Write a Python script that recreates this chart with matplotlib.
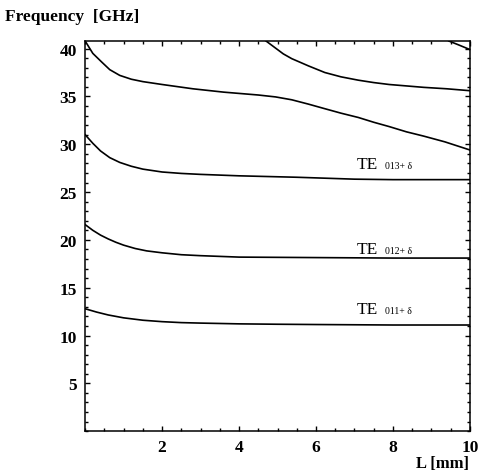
import matplotlib.pyplot as plt
from matplotlib.ticker import MultipleLocator

# readings (L in mm, frequency in GHz)
L_011 = [0, 0.3, 0.6, 1, 1.5, 2, 2.5, 3, 4, 5, 6, 8, 10]
f_011 = [12.8, 12.45, 12.15, 11.85, 11.6, 11.45, 11.35, 11.3, 11.22, 11.18, 11.15, 11.1, 11.1]

L_012 = [0, 0.2, 0.4, 0.6, 0.8, 1, 1.3, 1.6, 2, 2.5, 3, 4, 6, 8, 10]
f_012 = [21.6, 21.0, 20.5, 20.1, 19.75, 19.45, 19.1, 18.85, 18.65, 18.45, 18.35, 18.2, 18.15, 18.1, 18.1]

L_013 = [0, 0.2, 0.4, 0.64, 0.9, 1.2, 1.5, 2, 2.5, 3, 4, 5.5, 7, 8, 10]
f_013 = [31.0, 30.1, 29.3, 28.6, 28.1, 27.7, 27.4, 27.1, 26.95, 26.85, 26.7, 26.55, 26.35, 26.3, 26.3]

L_m4 = [0, 0.2, 0.43, 0.64, 0.9, 1.2, 1.5, 2.0, 2.8, 3.6, 4.5, 4.95, 5.37, 5.8, 6.2,
        6.65, 7.1, 7.5, 7.9, 8.35, 8.8, 9.35, 10]
f_m4 = [40.8, 39.5, 38.6, 37.8, 37.2, 36.8, 36.55, 36.25, 35.8, 35.45, 35.15, 34.95, 34.65,
        34.2, 33.75, 33.25, 32.8, 32.3, 31.85, 31.3, 30.85, 30.25, 29.4]

L_m5 = [4.7, 4.95, 5.15, 5.37, 5.6, 5.8, 6.23, 6.65, 7.1, 7.5, 7.9, 8.8, 9.4, 10]
f_m5 = [40.8, 40.05, 39.45, 38.95, 38.55, 38.2, 37.5, 37.05, 36.7, 36.45, 36.25, 35.95, 35.8, 35.6]

L_m6 = [9.45, 9.7, 10]
f_m6 = [40.8, 40.4, 39.9]

labels = ['013', '012', '011']
label_y = [27.5, 18.6, 12.4]

fig = plt.figure(figsize=(4.81, 4.77), dpi=100)
ax = fig.add_axes([0.177, 0.094, 0.8, 0.818])

for xs, ys in [(L_011, f_011), (L_012, f_012), (L_013, f_013),
               (L_m4, f_m4), (L_m5, f_m5), (L_m6, f_m6)]:
    ax.plot(xs, ys, color='black', lw=1.2, clip_on=True)

for name, y in zip(labels, label_y):
    ax.text(7.06, y, 'TE', family='Liberation Serif', fontsize=12.5, va='baseline')
    ax.text(7.78, y, name + '+ \u03b4', family='Liberation Serif', fontsize=7, va='baseline')

ax.set_xlim(0, 10)
ax.set_ylim(0, 40.8)
ax.set_xticks([2, 4, 6, 8, 10])
ax.set_yticks([5, 10, 15, 20, 25, 30, 35, 40])
ax.xaxis.set_minor_locator(MultipleLocator(0.5))
ax.yaxis.set_minor_locator(MultipleLocator(1))
ax.tick_params(which='both', direction='in', top=True, right=True, width=1)
ax.tick_params(which='major', length=3.5, pad=6)
ax.tick_params(which='minor', length=2)
for lab in ax.get_xticklabels() + ax.get_yticklabels():
    lab.set_family('Liberation Serif')
    lab.set_fontweight('bold')
    lab.set_fontsize(12.5)
for s in ax.spines.values():
    s.set_linewidth(1.1)

fig.text(0.01, 0.965, 'Frequency  [GHz]', family='Liberation Serif', fontweight='bold',
         fontsize=12.5, va='center')
fig.text(0.975, 0.027, 'L [mm]', family='Liberation Serif', fontweight='bold',
         fontsize=12, ha='right', va='center')

fig.savefig('out.png', dpi=100)
